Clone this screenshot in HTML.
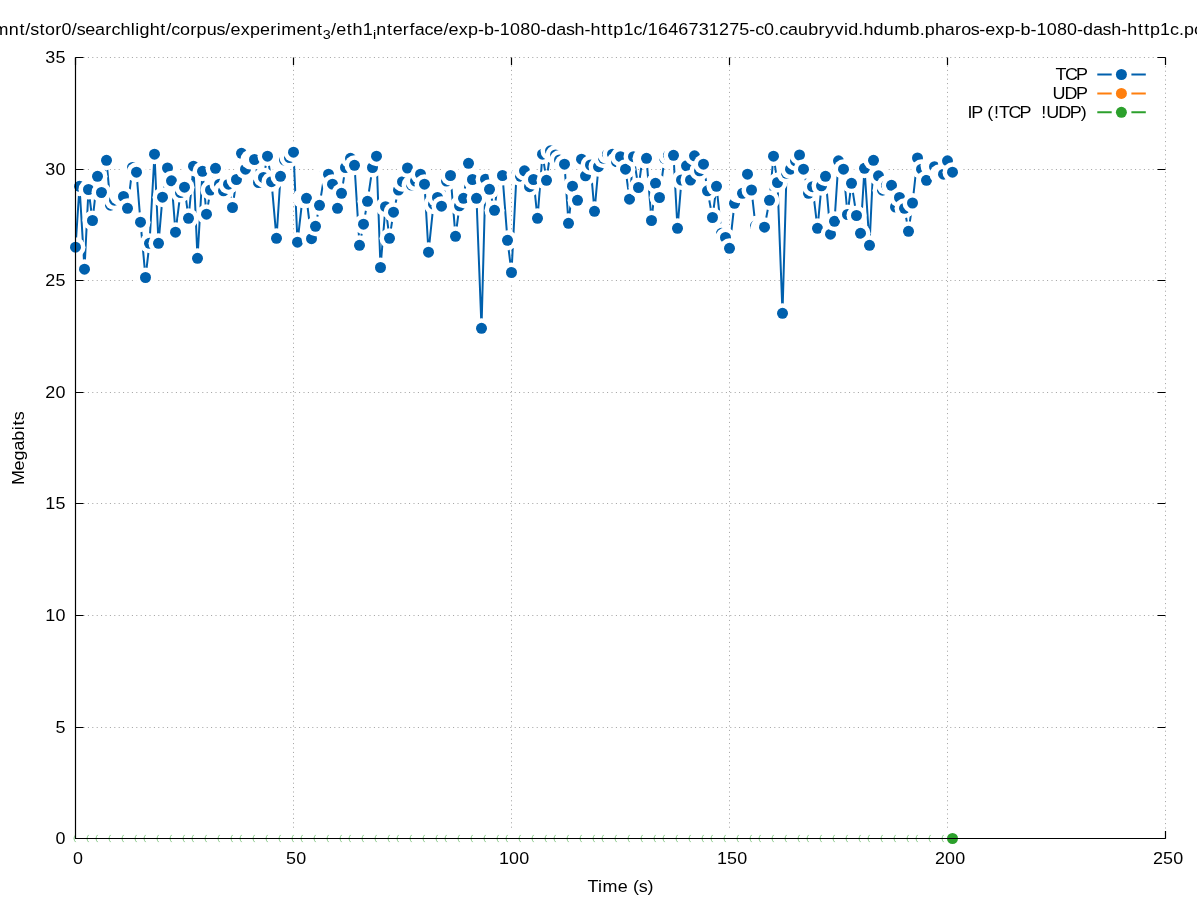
<!DOCTYPE html><html><head><meta charset="utf-8"><style>html,body{margin:0;padding:0;background:#fff;overflow:hidden}svg{display:block;will-change:transform}text{font-family:"Liberation Sans", sans-serif;fill:#000}</style></head><body>
<svg width="1197" height="900" viewBox="0 0 1197 900">
<rect width="1197" height="900" fill="#fff"/>
<path d="M83.5 727.50H1157.5M83.5 615.50H1157.5M83.5 503.50H1157.5M83.5 392.50H1157.5M83.5 280.50H1157.5M83.5 169.50H1157.5M83.5 57.50H1165.5M293.50 65.5V830.5M511.50 65.5V830.5M729.50 65.5V830.5M947.50 65.5V830.5M1165.50 57.5V830.5" stroke="#a0a0a0" stroke-width="1" stroke-dasharray="1 3.4" fill="none"/>
<path d="M75.5 838.50h8M1165.5 838.50h-8M75.5 727.50h8M1165.5 727.50h-8M75.5 615.50h8M1165.5 615.50h-8M75.5 503.50h8M1165.5 503.50h-8M75.5 392.50h8M1165.5 392.50h-8M75.5 280.50h8M1165.5 280.50h-8M75.5 169.50h8M1165.5 169.50h-8M75.5 57.50h8M1165.5 57.50h-8M75.50 838.5v-7.5M75.50 57.5v7.5M293.50 838.5v-7.5M293.50 57.5v7.5M511.50 838.5v-7.5M511.50 57.5v7.5M729.50 838.5v-7.5M729.50 57.5v7.5M947.50 838.5v-7.5M947.50 57.5v7.5M1165.50 838.5v-7.5M1165.50 57.5v7.5" stroke="#000" stroke-width="1.2" fill="none"/>
<polyline points="75.5,247.2 79.5,186.3 84.5,269.2 88.5,189.5 92.5,220.5 97.5,176.3 101.5,192.5 106.5,160.3 110.5,205.2 114.5,200.2 119.5,195.5 123.5,196.5 127.5,208.3 132.5,167.5 136.5,172.2 140.5,222.2 145.5,277.5 149.5,243.3 154.5,154.2 158.5,243.3 162.5,197.2 167.5,168.0 171.5,180.8 175.5,232.2 180.5,192.5 184.5,187.2 188.5,218.3 193.5,166.2 197.5,258.3 202.5,171.3 206.5,214.2 210.5,190.0 215.5,168.3 219.5,184.2 223.5,190.8 228.5,184.2 232.5,207.5 236.5,179.5 241.5,153.3 245.5,169.2 250.5,159.5 254.5,159.5 258.5,182.5 263.5,177.5 267.5,156.2 271.5,181.7 276.5,238.3 280.5,176.3 284.5,160.0 289.5,157.5 293.5,152.2 297.5,242.2 302.5,198.3 306.5,198.3 311.5,238.7 315.5,226.3 319.5,205.3 324.5,174.2 328.5,174.2 332.5,184.2 337.5,208.3 341.5,193.3 345.5,167.5 350.5,158.3 354.5,165.3 359.5,245.3 363.5,224.2 367.5,201.3 372.5,167.5 376.5,156.2 380.5,267.5 385.5,206.7 389.5,238.3 393.5,212.2 398.5,190.0 402.5,181.7 407.5,168.0 411.5,185.0 415.5,181.1 420.5,174.2 424.5,184.2 428.5,252.2 433.5,204.2 437.5,197.5 441.5,206.2 446.5,181.0 450.5,175.5 455.5,236.3 459.5,205.8 463.5,198.3 468.5,163.3 472.5,179.5 476.5,198.3 481.5,328.3 485.5,179.2 489.5,189.3 494.5,210.3 498.5,175.5 502.5,175.5 507.5,240.3 511.5,272.5 516.5,174.5 520.5,176.3 524.5,170.8 529.5,186.7 533.5,179.5 537.5,218.3 542.5,154.2 546.5,180.3 550.5,150.8 555.5,155.0 559.5,160.0 564.5,164.2 568.5,223.3 572.5,186.2 577.5,200.3 581.5,159.2 585.5,175.8 590.5,165.0 594.5,211.3 598.5,166.7 603.5,158.3 607.5,154.2 612.5,154.2 616.5,161.7 620.5,156.7 625.5,169.2 629.5,199.2 633.5,156.7 638.5,187.5 642.5,158.3 646.5,158.3 651.5,220.5 655.5,183.3 659.5,197.5 664.5,158.3 668.5,155.3 673.5,155.3 677.5,228.3 681.5,180.0 686.5,165.8 690.5,180.0 694.5,155.8 699.5,170.8 703.5,164.2 707.5,190.8 712.5,217.5 716.5,186.3 721.5,233.3 725.5,237.5 729.5,248.3 734.5,203.3 738.5,193.3 742.5,193.3 747.5,174.2 751.5,190.0 755.5,225.8 760.5,227.2 764.5,227.2 769.5,200.3 773.5,156.2 777.5,182.5 782.5,313.3 786.5,173.3 790.5,169.2 795.5,160.8 799.5,155.0 803.5,169.2 808.5,193.3 812.5,186.7 817.5,228.3 821.5,185.8 825.5,176.3 830.5,234.2 834.5,221.3 838.5,160.8 843.5,169.2 847.5,214.5 851.5,183.3 856.5,215.5 860.5,233.3 864.5,168.3 869.5,245.3 873.5,160.3 878.5,175.8 882.5,190.2 886.5,185.3 891.5,185.3 895.5,207.0 899.5,197.5 904.5,208.3 908.5,231.3 912.5,203.0 917.5,158.0 921.5,169.2 926.5,180.3 930.5,165.8 934.5,166.7 939.5,174.2 943.5,174.2 947.5,160.8 952.5,172.2" stroke="#0060ad" stroke-width="2" fill="none" stroke-linejoin="miter"/>
<g><circle cx="75.5" cy="247.2" r="10" fill="#fff"/><circle cx="75.5" cy="247.2" r="5.5" fill="#0060ad"/><circle cx="79.5" cy="186.3" r="10" fill="#fff"/><circle cx="79.5" cy="186.3" r="5.5" fill="#0060ad"/><circle cx="84.5" cy="269.2" r="10" fill="#fff"/><circle cx="84.5" cy="269.2" r="5.5" fill="#0060ad"/><circle cx="88.5" cy="189.5" r="10" fill="#fff"/><circle cx="88.5" cy="189.5" r="5.5" fill="#0060ad"/><circle cx="92.5" cy="220.5" r="10" fill="#fff"/><circle cx="92.5" cy="220.5" r="5.5" fill="#0060ad"/><circle cx="97.5" cy="176.3" r="10" fill="#fff"/><circle cx="97.5" cy="176.3" r="5.5" fill="#0060ad"/><circle cx="101.5" cy="192.5" r="10" fill="#fff"/><circle cx="101.5" cy="192.5" r="5.5" fill="#0060ad"/><circle cx="106.5" cy="160.3" r="10" fill="#fff"/><circle cx="106.5" cy="160.3" r="5.5" fill="#0060ad"/><circle cx="110.5" cy="205.2" r="10" fill="#fff"/><circle cx="110.5" cy="205.2" r="5.5" fill="#0060ad"/><circle cx="114.5" cy="200.2" r="10" fill="#fff"/><circle cx="114.5" cy="200.2" r="5.5" fill="#0060ad"/><circle cx="119.5" cy="195.5" r="10" fill="#fff"/><circle cx="119.5" cy="195.5" r="5.5" fill="#0060ad"/><circle cx="123.5" cy="196.5" r="10" fill="#fff"/><circle cx="123.5" cy="196.5" r="5.5" fill="#0060ad"/><circle cx="127.5" cy="208.3" r="10" fill="#fff"/><circle cx="127.5" cy="208.3" r="5.5" fill="#0060ad"/><circle cx="132.5" cy="167.5" r="10" fill="#fff"/><circle cx="132.5" cy="167.5" r="5.5" fill="#0060ad"/><circle cx="136.5" cy="172.2" r="10" fill="#fff"/><circle cx="136.5" cy="172.2" r="5.5" fill="#0060ad"/><circle cx="140.5" cy="222.2" r="10" fill="#fff"/><circle cx="140.5" cy="222.2" r="5.5" fill="#0060ad"/><circle cx="145.5" cy="277.5" r="10" fill="#fff"/><circle cx="145.5" cy="277.5" r="5.5" fill="#0060ad"/><circle cx="149.5" cy="243.3" r="10" fill="#fff"/><circle cx="149.5" cy="243.3" r="5.5" fill="#0060ad"/><circle cx="154.5" cy="154.2" r="10" fill="#fff"/><circle cx="154.5" cy="154.2" r="5.5" fill="#0060ad"/><circle cx="158.5" cy="243.3" r="10" fill="#fff"/><circle cx="158.5" cy="243.3" r="5.5" fill="#0060ad"/><circle cx="162.5" cy="197.2" r="10" fill="#fff"/><circle cx="162.5" cy="197.2" r="5.5" fill="#0060ad"/><circle cx="167.5" cy="168.0" r="10" fill="#fff"/><circle cx="167.5" cy="168.0" r="5.5" fill="#0060ad"/><circle cx="171.5" cy="180.8" r="10" fill="#fff"/><circle cx="171.5" cy="180.8" r="5.5" fill="#0060ad"/><circle cx="175.5" cy="232.2" r="10" fill="#fff"/><circle cx="175.5" cy="232.2" r="5.5" fill="#0060ad"/><circle cx="180.5" cy="192.5" r="10" fill="#fff"/><circle cx="180.5" cy="192.5" r="5.5" fill="#0060ad"/><circle cx="184.5" cy="187.2" r="10" fill="#fff"/><circle cx="184.5" cy="187.2" r="5.5" fill="#0060ad"/><circle cx="188.5" cy="218.3" r="10" fill="#fff"/><circle cx="188.5" cy="218.3" r="5.5" fill="#0060ad"/><circle cx="193.5" cy="166.2" r="10" fill="#fff"/><circle cx="193.5" cy="166.2" r="5.5" fill="#0060ad"/><circle cx="197.5" cy="258.3" r="10" fill="#fff"/><circle cx="197.5" cy="258.3" r="5.5" fill="#0060ad"/><circle cx="202.5" cy="171.3" r="10" fill="#fff"/><circle cx="202.5" cy="171.3" r="5.5" fill="#0060ad"/><circle cx="206.5" cy="214.2" r="10" fill="#fff"/><circle cx="206.5" cy="214.2" r="5.5" fill="#0060ad"/><circle cx="210.5" cy="190.0" r="10" fill="#fff"/><circle cx="210.5" cy="190.0" r="5.5" fill="#0060ad"/><circle cx="215.5" cy="168.3" r="10" fill="#fff"/><circle cx="215.5" cy="168.3" r="5.5" fill="#0060ad"/><circle cx="219.5" cy="184.2" r="10" fill="#fff"/><circle cx="219.5" cy="184.2" r="5.5" fill="#0060ad"/><circle cx="223.5" cy="190.8" r="10" fill="#fff"/><circle cx="223.5" cy="190.8" r="5.5" fill="#0060ad"/><circle cx="228.5" cy="184.2" r="10" fill="#fff"/><circle cx="228.5" cy="184.2" r="5.5" fill="#0060ad"/><circle cx="232.5" cy="207.5" r="10" fill="#fff"/><circle cx="232.5" cy="207.5" r="5.5" fill="#0060ad"/><circle cx="236.5" cy="179.5" r="10" fill="#fff"/><circle cx="236.5" cy="179.5" r="5.5" fill="#0060ad"/><circle cx="241.5" cy="153.3" r="10" fill="#fff"/><circle cx="241.5" cy="153.3" r="5.5" fill="#0060ad"/><circle cx="245.5" cy="169.2" r="10" fill="#fff"/><circle cx="245.5" cy="169.2" r="5.5" fill="#0060ad"/><circle cx="250.5" cy="159.5" r="10" fill="#fff"/><circle cx="250.5" cy="159.5" r="5.5" fill="#0060ad"/><circle cx="254.5" cy="159.5" r="10" fill="#fff"/><circle cx="254.5" cy="159.5" r="5.5" fill="#0060ad"/><circle cx="258.5" cy="182.5" r="10" fill="#fff"/><circle cx="258.5" cy="182.5" r="5.5" fill="#0060ad"/><circle cx="263.5" cy="177.5" r="10" fill="#fff"/><circle cx="263.5" cy="177.5" r="5.5" fill="#0060ad"/><circle cx="267.5" cy="156.2" r="10" fill="#fff"/><circle cx="267.5" cy="156.2" r="5.5" fill="#0060ad"/><circle cx="271.5" cy="181.7" r="10" fill="#fff"/><circle cx="271.5" cy="181.7" r="5.5" fill="#0060ad"/><circle cx="276.5" cy="238.3" r="10" fill="#fff"/><circle cx="276.5" cy="238.3" r="5.5" fill="#0060ad"/><circle cx="280.5" cy="176.3" r="10" fill="#fff"/><circle cx="280.5" cy="176.3" r="5.5" fill="#0060ad"/><circle cx="284.5" cy="160.0" r="10" fill="#fff"/><circle cx="284.5" cy="160.0" r="5.5" fill="#0060ad"/><circle cx="289.5" cy="157.5" r="10" fill="#fff"/><circle cx="289.5" cy="157.5" r="5.5" fill="#0060ad"/><circle cx="293.5" cy="152.2" r="10" fill="#fff"/><circle cx="293.5" cy="152.2" r="5.5" fill="#0060ad"/><circle cx="297.5" cy="242.2" r="10" fill="#fff"/><circle cx="297.5" cy="242.2" r="5.5" fill="#0060ad"/><circle cx="302.5" cy="198.3" r="10" fill="#fff"/><circle cx="302.5" cy="198.3" r="5.5" fill="#0060ad"/><circle cx="306.5" cy="198.3" r="10" fill="#fff"/><circle cx="306.5" cy="198.3" r="5.5" fill="#0060ad"/><circle cx="311.5" cy="238.7" r="10" fill="#fff"/><circle cx="311.5" cy="238.7" r="5.5" fill="#0060ad"/><circle cx="315.5" cy="226.3" r="10" fill="#fff"/><circle cx="315.5" cy="226.3" r="5.5" fill="#0060ad"/><circle cx="319.5" cy="205.3" r="10" fill="#fff"/><circle cx="319.5" cy="205.3" r="5.5" fill="#0060ad"/><circle cx="324.5" cy="174.2" r="10" fill="#fff"/><circle cx="324.5" cy="174.2" r="5.5" fill="#0060ad"/><circle cx="328.5" cy="174.2" r="10" fill="#fff"/><circle cx="328.5" cy="174.2" r="5.5" fill="#0060ad"/><circle cx="332.5" cy="184.2" r="10" fill="#fff"/><circle cx="332.5" cy="184.2" r="5.5" fill="#0060ad"/><circle cx="337.5" cy="208.3" r="10" fill="#fff"/><circle cx="337.5" cy="208.3" r="5.5" fill="#0060ad"/><circle cx="341.5" cy="193.3" r="10" fill="#fff"/><circle cx="341.5" cy="193.3" r="5.5" fill="#0060ad"/><circle cx="345.5" cy="167.5" r="10" fill="#fff"/><circle cx="345.5" cy="167.5" r="5.5" fill="#0060ad"/><circle cx="350.5" cy="158.3" r="10" fill="#fff"/><circle cx="350.5" cy="158.3" r="5.5" fill="#0060ad"/><circle cx="354.5" cy="165.3" r="10" fill="#fff"/><circle cx="354.5" cy="165.3" r="5.5" fill="#0060ad"/><circle cx="359.5" cy="245.3" r="10" fill="#fff"/><circle cx="359.5" cy="245.3" r="5.5" fill="#0060ad"/><circle cx="363.5" cy="224.2" r="10" fill="#fff"/><circle cx="363.5" cy="224.2" r="5.5" fill="#0060ad"/><circle cx="367.5" cy="201.3" r="10" fill="#fff"/><circle cx="367.5" cy="201.3" r="5.5" fill="#0060ad"/><circle cx="372.5" cy="167.5" r="10" fill="#fff"/><circle cx="372.5" cy="167.5" r="5.5" fill="#0060ad"/><circle cx="376.5" cy="156.2" r="10" fill="#fff"/><circle cx="376.5" cy="156.2" r="5.5" fill="#0060ad"/><circle cx="380.5" cy="267.5" r="10" fill="#fff"/><circle cx="380.5" cy="267.5" r="5.5" fill="#0060ad"/><circle cx="385.5" cy="206.7" r="10" fill="#fff"/><circle cx="385.5" cy="206.7" r="5.5" fill="#0060ad"/><circle cx="389.5" cy="238.3" r="10" fill="#fff"/><circle cx="389.5" cy="238.3" r="5.5" fill="#0060ad"/><circle cx="393.5" cy="212.2" r="10" fill="#fff"/><circle cx="393.5" cy="212.2" r="5.5" fill="#0060ad"/><circle cx="398.5" cy="190.0" r="10" fill="#fff"/><circle cx="398.5" cy="190.0" r="5.5" fill="#0060ad"/><circle cx="402.5" cy="181.7" r="10" fill="#fff"/><circle cx="402.5" cy="181.7" r="5.5" fill="#0060ad"/><circle cx="407.5" cy="168.0" r="10" fill="#fff"/><circle cx="407.5" cy="168.0" r="5.5" fill="#0060ad"/><circle cx="411.5" cy="185.0" r="10" fill="#fff"/><circle cx="411.5" cy="185.0" r="5.5" fill="#0060ad"/><circle cx="415.5" cy="181.1" r="10" fill="#fff"/><circle cx="415.5" cy="181.1" r="5.5" fill="#0060ad"/><circle cx="420.5" cy="174.2" r="10" fill="#fff"/><circle cx="420.5" cy="174.2" r="5.5" fill="#0060ad"/><circle cx="424.5" cy="184.2" r="10" fill="#fff"/><circle cx="424.5" cy="184.2" r="5.5" fill="#0060ad"/><circle cx="428.5" cy="252.2" r="10" fill="#fff"/><circle cx="428.5" cy="252.2" r="5.5" fill="#0060ad"/><circle cx="433.5" cy="204.2" r="10" fill="#fff"/><circle cx="433.5" cy="204.2" r="5.5" fill="#0060ad"/><circle cx="437.5" cy="197.5" r="10" fill="#fff"/><circle cx="437.5" cy="197.5" r="5.5" fill="#0060ad"/><circle cx="441.5" cy="206.2" r="10" fill="#fff"/><circle cx="441.5" cy="206.2" r="5.5" fill="#0060ad"/><circle cx="446.5" cy="181.0" r="10" fill="#fff"/><circle cx="446.5" cy="181.0" r="5.5" fill="#0060ad"/><circle cx="450.5" cy="175.5" r="10" fill="#fff"/><circle cx="450.5" cy="175.5" r="5.5" fill="#0060ad"/><circle cx="455.5" cy="236.3" r="10" fill="#fff"/><circle cx="455.5" cy="236.3" r="5.5" fill="#0060ad"/><circle cx="459.5" cy="205.8" r="10" fill="#fff"/><circle cx="459.5" cy="205.8" r="5.5" fill="#0060ad"/><circle cx="463.5" cy="198.3" r="10" fill="#fff"/><circle cx="463.5" cy="198.3" r="5.5" fill="#0060ad"/><circle cx="468.5" cy="163.3" r="10" fill="#fff"/><circle cx="468.5" cy="163.3" r="5.5" fill="#0060ad"/><circle cx="472.5" cy="179.5" r="10" fill="#fff"/><circle cx="472.5" cy="179.5" r="5.5" fill="#0060ad"/><circle cx="476.5" cy="198.3" r="10" fill="#fff"/><circle cx="476.5" cy="198.3" r="5.5" fill="#0060ad"/><circle cx="481.5" cy="328.3" r="10" fill="#fff"/><circle cx="481.5" cy="328.3" r="5.5" fill="#0060ad"/><circle cx="485.5" cy="179.2" r="10" fill="#fff"/><circle cx="485.5" cy="179.2" r="5.5" fill="#0060ad"/><circle cx="489.5" cy="189.3" r="10" fill="#fff"/><circle cx="489.5" cy="189.3" r="5.5" fill="#0060ad"/><circle cx="494.5" cy="210.3" r="10" fill="#fff"/><circle cx="494.5" cy="210.3" r="5.5" fill="#0060ad"/><circle cx="498.5" cy="175.5" r="10" fill="#fff"/><circle cx="498.5" cy="175.5" r="5.5" fill="#0060ad"/><circle cx="502.5" cy="175.5" r="10" fill="#fff"/><circle cx="502.5" cy="175.5" r="5.5" fill="#0060ad"/><circle cx="507.5" cy="240.3" r="10" fill="#fff"/><circle cx="507.5" cy="240.3" r="5.5" fill="#0060ad"/><circle cx="511.5" cy="272.5" r="10" fill="#fff"/><circle cx="511.5" cy="272.5" r="5.5" fill="#0060ad"/><circle cx="516.5" cy="174.5" r="10" fill="#fff"/><circle cx="516.5" cy="174.5" r="5.5" fill="#0060ad"/><circle cx="520.5" cy="176.3" r="10" fill="#fff"/><circle cx="520.5" cy="176.3" r="5.5" fill="#0060ad"/><circle cx="524.5" cy="170.8" r="10" fill="#fff"/><circle cx="524.5" cy="170.8" r="5.5" fill="#0060ad"/><circle cx="529.5" cy="186.7" r="10" fill="#fff"/><circle cx="529.5" cy="186.7" r="5.5" fill="#0060ad"/><circle cx="533.5" cy="179.5" r="10" fill="#fff"/><circle cx="533.5" cy="179.5" r="5.5" fill="#0060ad"/><circle cx="537.5" cy="218.3" r="10" fill="#fff"/><circle cx="537.5" cy="218.3" r="5.5" fill="#0060ad"/><circle cx="542.5" cy="154.2" r="10" fill="#fff"/><circle cx="542.5" cy="154.2" r="5.5" fill="#0060ad"/><circle cx="546.5" cy="180.3" r="10" fill="#fff"/><circle cx="546.5" cy="180.3" r="5.5" fill="#0060ad"/><circle cx="550.5" cy="150.8" r="10" fill="#fff"/><circle cx="550.5" cy="150.8" r="5.5" fill="#0060ad"/><circle cx="555.5" cy="155.0" r="10" fill="#fff"/><circle cx="555.5" cy="155.0" r="5.5" fill="#0060ad"/><circle cx="559.5" cy="160.0" r="10" fill="#fff"/><circle cx="559.5" cy="160.0" r="5.5" fill="#0060ad"/><circle cx="564.5" cy="164.2" r="10" fill="#fff"/><circle cx="564.5" cy="164.2" r="5.5" fill="#0060ad"/><circle cx="568.5" cy="223.3" r="10" fill="#fff"/><circle cx="568.5" cy="223.3" r="5.5" fill="#0060ad"/><circle cx="572.5" cy="186.2" r="10" fill="#fff"/><circle cx="572.5" cy="186.2" r="5.5" fill="#0060ad"/><circle cx="577.5" cy="200.3" r="10" fill="#fff"/><circle cx="577.5" cy="200.3" r="5.5" fill="#0060ad"/><circle cx="581.5" cy="159.2" r="10" fill="#fff"/><circle cx="581.5" cy="159.2" r="5.5" fill="#0060ad"/><circle cx="585.5" cy="175.8" r="10" fill="#fff"/><circle cx="585.5" cy="175.8" r="5.5" fill="#0060ad"/><circle cx="590.5" cy="165.0" r="10" fill="#fff"/><circle cx="590.5" cy="165.0" r="5.5" fill="#0060ad"/><circle cx="594.5" cy="211.3" r="10" fill="#fff"/><circle cx="594.5" cy="211.3" r="5.5" fill="#0060ad"/><circle cx="598.5" cy="166.7" r="10" fill="#fff"/><circle cx="598.5" cy="166.7" r="5.5" fill="#0060ad"/><circle cx="603.5" cy="158.3" r="10" fill="#fff"/><circle cx="603.5" cy="158.3" r="5.5" fill="#0060ad"/><circle cx="607.5" cy="154.2" r="10" fill="#fff"/><circle cx="607.5" cy="154.2" r="5.5" fill="#0060ad"/><circle cx="612.5" cy="154.2" r="10" fill="#fff"/><circle cx="612.5" cy="154.2" r="5.5" fill="#0060ad"/><circle cx="616.5" cy="161.7" r="10" fill="#fff"/><circle cx="616.5" cy="161.7" r="5.5" fill="#0060ad"/><circle cx="620.5" cy="156.7" r="10" fill="#fff"/><circle cx="620.5" cy="156.7" r="5.5" fill="#0060ad"/><circle cx="625.5" cy="169.2" r="10" fill="#fff"/><circle cx="625.5" cy="169.2" r="5.5" fill="#0060ad"/><circle cx="629.5" cy="199.2" r="10" fill="#fff"/><circle cx="629.5" cy="199.2" r="5.5" fill="#0060ad"/><circle cx="633.5" cy="156.7" r="10" fill="#fff"/><circle cx="633.5" cy="156.7" r="5.5" fill="#0060ad"/><circle cx="638.5" cy="187.5" r="10" fill="#fff"/><circle cx="638.5" cy="187.5" r="5.5" fill="#0060ad"/><circle cx="642.5" cy="158.3" r="10" fill="#fff"/><circle cx="642.5" cy="158.3" r="5.5" fill="#0060ad"/><circle cx="646.5" cy="158.3" r="10" fill="#fff"/><circle cx="646.5" cy="158.3" r="5.5" fill="#0060ad"/><circle cx="651.5" cy="220.5" r="10" fill="#fff"/><circle cx="651.5" cy="220.5" r="5.5" fill="#0060ad"/><circle cx="655.5" cy="183.3" r="10" fill="#fff"/><circle cx="655.5" cy="183.3" r="5.5" fill="#0060ad"/><circle cx="659.5" cy="197.5" r="10" fill="#fff"/><circle cx="659.5" cy="197.5" r="5.5" fill="#0060ad"/><circle cx="664.5" cy="158.3" r="10" fill="#fff"/><circle cx="664.5" cy="158.3" r="5.5" fill="#0060ad"/><circle cx="668.5" cy="155.3" r="10" fill="#fff"/><circle cx="668.5" cy="155.3" r="5.5" fill="#0060ad"/><circle cx="673.5" cy="155.3" r="10" fill="#fff"/><circle cx="673.5" cy="155.3" r="5.5" fill="#0060ad"/><circle cx="677.5" cy="228.3" r="10" fill="#fff"/><circle cx="677.5" cy="228.3" r="5.5" fill="#0060ad"/><circle cx="681.5" cy="180.0" r="10" fill="#fff"/><circle cx="681.5" cy="180.0" r="5.5" fill="#0060ad"/><circle cx="686.5" cy="165.8" r="10" fill="#fff"/><circle cx="686.5" cy="165.8" r="5.5" fill="#0060ad"/><circle cx="690.5" cy="180.0" r="10" fill="#fff"/><circle cx="690.5" cy="180.0" r="5.5" fill="#0060ad"/><circle cx="694.5" cy="155.8" r="10" fill="#fff"/><circle cx="694.5" cy="155.8" r="5.5" fill="#0060ad"/><circle cx="699.5" cy="170.8" r="10" fill="#fff"/><circle cx="699.5" cy="170.8" r="5.5" fill="#0060ad"/><circle cx="703.5" cy="164.2" r="10" fill="#fff"/><circle cx="703.5" cy="164.2" r="5.5" fill="#0060ad"/><circle cx="707.5" cy="190.8" r="10" fill="#fff"/><circle cx="707.5" cy="190.8" r="5.5" fill="#0060ad"/><circle cx="712.5" cy="217.5" r="10" fill="#fff"/><circle cx="712.5" cy="217.5" r="5.5" fill="#0060ad"/><circle cx="716.5" cy="186.3" r="10" fill="#fff"/><circle cx="716.5" cy="186.3" r="5.5" fill="#0060ad"/><circle cx="721.5" cy="233.3" r="10" fill="#fff"/><circle cx="721.5" cy="233.3" r="5.5" fill="#0060ad"/><circle cx="725.5" cy="237.5" r="10" fill="#fff"/><circle cx="725.5" cy="237.5" r="5.5" fill="#0060ad"/><circle cx="729.5" cy="248.3" r="10" fill="#fff"/><circle cx="729.5" cy="248.3" r="5.5" fill="#0060ad"/><circle cx="734.5" cy="203.3" r="10" fill="#fff"/><circle cx="734.5" cy="203.3" r="5.5" fill="#0060ad"/><circle cx="738.5" cy="193.3" r="10" fill="#fff"/><circle cx="738.5" cy="193.3" r="5.5" fill="#0060ad"/><circle cx="742.5" cy="193.3" r="10" fill="#fff"/><circle cx="742.5" cy="193.3" r="5.5" fill="#0060ad"/><circle cx="747.5" cy="174.2" r="10" fill="#fff"/><circle cx="747.5" cy="174.2" r="5.5" fill="#0060ad"/><circle cx="751.5" cy="190.0" r="10" fill="#fff"/><circle cx="751.5" cy="190.0" r="5.5" fill="#0060ad"/><circle cx="755.5" cy="225.8" r="10" fill="#fff"/><circle cx="755.5" cy="225.8" r="5.5" fill="#0060ad"/><circle cx="760.5" cy="227.2" r="10" fill="#fff"/><circle cx="760.5" cy="227.2" r="5.5" fill="#0060ad"/><circle cx="764.5" cy="227.2" r="10" fill="#fff"/><circle cx="764.5" cy="227.2" r="5.5" fill="#0060ad"/><circle cx="769.5" cy="200.3" r="10" fill="#fff"/><circle cx="769.5" cy="200.3" r="5.5" fill="#0060ad"/><circle cx="773.5" cy="156.2" r="10" fill="#fff"/><circle cx="773.5" cy="156.2" r="5.5" fill="#0060ad"/><circle cx="777.5" cy="182.5" r="10" fill="#fff"/><circle cx="777.5" cy="182.5" r="5.5" fill="#0060ad"/><circle cx="782.5" cy="313.3" r="10" fill="#fff"/><circle cx="782.5" cy="313.3" r="5.5" fill="#0060ad"/><circle cx="786.5" cy="173.3" r="10" fill="#fff"/><circle cx="786.5" cy="173.3" r="5.5" fill="#0060ad"/><circle cx="790.5" cy="169.2" r="10" fill="#fff"/><circle cx="790.5" cy="169.2" r="5.5" fill="#0060ad"/><circle cx="795.5" cy="160.8" r="10" fill="#fff"/><circle cx="795.5" cy="160.8" r="5.5" fill="#0060ad"/><circle cx="799.5" cy="155.0" r="10" fill="#fff"/><circle cx="799.5" cy="155.0" r="5.5" fill="#0060ad"/><circle cx="803.5" cy="169.2" r="10" fill="#fff"/><circle cx="803.5" cy="169.2" r="5.5" fill="#0060ad"/><circle cx="808.5" cy="193.3" r="10" fill="#fff"/><circle cx="808.5" cy="193.3" r="5.5" fill="#0060ad"/><circle cx="812.5" cy="186.7" r="10" fill="#fff"/><circle cx="812.5" cy="186.7" r="5.5" fill="#0060ad"/><circle cx="817.5" cy="228.3" r="10" fill="#fff"/><circle cx="817.5" cy="228.3" r="5.5" fill="#0060ad"/><circle cx="821.5" cy="185.8" r="10" fill="#fff"/><circle cx="821.5" cy="185.8" r="5.5" fill="#0060ad"/><circle cx="825.5" cy="176.3" r="10" fill="#fff"/><circle cx="825.5" cy="176.3" r="5.5" fill="#0060ad"/><circle cx="830.5" cy="234.2" r="10" fill="#fff"/><circle cx="830.5" cy="234.2" r="5.5" fill="#0060ad"/><circle cx="834.5" cy="221.3" r="10" fill="#fff"/><circle cx="834.5" cy="221.3" r="5.5" fill="#0060ad"/><circle cx="838.5" cy="160.8" r="10" fill="#fff"/><circle cx="838.5" cy="160.8" r="5.5" fill="#0060ad"/><circle cx="843.5" cy="169.2" r="10" fill="#fff"/><circle cx="843.5" cy="169.2" r="5.5" fill="#0060ad"/><circle cx="847.5" cy="214.5" r="10" fill="#fff"/><circle cx="847.5" cy="214.5" r="5.5" fill="#0060ad"/><circle cx="851.5" cy="183.3" r="10" fill="#fff"/><circle cx="851.5" cy="183.3" r="5.5" fill="#0060ad"/><circle cx="856.5" cy="215.5" r="10" fill="#fff"/><circle cx="856.5" cy="215.5" r="5.5" fill="#0060ad"/><circle cx="860.5" cy="233.3" r="10" fill="#fff"/><circle cx="860.5" cy="233.3" r="5.5" fill="#0060ad"/><circle cx="864.5" cy="168.3" r="10" fill="#fff"/><circle cx="864.5" cy="168.3" r="5.5" fill="#0060ad"/><circle cx="869.5" cy="245.3" r="10" fill="#fff"/><circle cx="869.5" cy="245.3" r="5.5" fill="#0060ad"/><circle cx="873.5" cy="160.3" r="10" fill="#fff"/><circle cx="873.5" cy="160.3" r="5.5" fill="#0060ad"/><circle cx="878.5" cy="175.8" r="10" fill="#fff"/><circle cx="878.5" cy="175.8" r="5.5" fill="#0060ad"/><circle cx="882.5" cy="190.2" r="10" fill="#fff"/><circle cx="882.5" cy="190.2" r="5.5" fill="#0060ad"/><circle cx="886.5" cy="185.3" r="10" fill="#fff"/><circle cx="886.5" cy="185.3" r="5.5" fill="#0060ad"/><circle cx="891.5" cy="185.3" r="10" fill="#fff"/><circle cx="891.5" cy="185.3" r="5.5" fill="#0060ad"/><circle cx="895.5" cy="207.0" r="10" fill="#fff"/><circle cx="895.5" cy="207.0" r="5.5" fill="#0060ad"/><circle cx="899.5" cy="197.5" r="10" fill="#fff"/><circle cx="899.5" cy="197.5" r="5.5" fill="#0060ad"/><circle cx="904.5" cy="208.3" r="10" fill="#fff"/><circle cx="904.5" cy="208.3" r="5.5" fill="#0060ad"/><circle cx="908.5" cy="231.3" r="10" fill="#fff"/><circle cx="908.5" cy="231.3" r="5.5" fill="#0060ad"/><circle cx="912.5" cy="203.0" r="10" fill="#fff"/><circle cx="912.5" cy="203.0" r="5.5" fill="#0060ad"/><circle cx="917.5" cy="158.0" r="10" fill="#fff"/><circle cx="917.5" cy="158.0" r="5.5" fill="#0060ad"/><circle cx="921.5" cy="169.2" r="10" fill="#fff"/><circle cx="921.5" cy="169.2" r="5.5" fill="#0060ad"/><circle cx="926.5" cy="180.3" r="10" fill="#fff"/><circle cx="926.5" cy="180.3" r="5.5" fill="#0060ad"/><circle cx="930.5" cy="165.8" r="10" fill="#fff"/><circle cx="930.5" cy="165.8" r="5.5" fill="#0060ad"/><circle cx="934.5" cy="166.7" r="10" fill="#fff"/><circle cx="934.5" cy="166.7" r="5.5" fill="#0060ad"/><circle cx="939.5" cy="174.2" r="10" fill="#fff"/><circle cx="939.5" cy="174.2" r="5.5" fill="#0060ad"/><circle cx="943.5" cy="174.2" r="10" fill="#fff"/><circle cx="943.5" cy="174.2" r="5.5" fill="#0060ad"/><circle cx="947.5" cy="160.8" r="10" fill="#fff"/><circle cx="947.5" cy="160.8" r="5.5" fill="#0060ad"/><circle cx="952.5" cy="172.2" r="10" fill="#fff"/><circle cx="952.5" cy="172.2" r="5.5" fill="#0060ad"/></g>
<rect x="65.5" y="828.5" width="897" height="20" rx="10" fill="#fff"/>
<g stroke="#2ca02c" stroke-width="0.8" fill="none" opacity="0.7">
<path d="M75.60 834.90A5.5 5.5 0 0 0 75.60 842.10"/>
<path d="M88.60 834.90A5.5 5.5 0 0 0 88.60 842.10"/>
<path d="M97.60 834.90A5.5 5.5 0 0 0 97.60 842.10"/>
<path d="M110.60 834.90A5.5 5.5 0 0 0 110.60 842.10"/>
<path d="M123.60 834.90A5.5 5.5 0 0 0 123.60 842.10"/>
<path d="M136.60 834.90A5.5 5.5 0 0 0 136.60 842.10"/>
<path d="M145.60 834.90A5.5 5.5 0 0 0 145.60 842.10"/>
<path d="M158.60 834.90A5.5 5.5 0 0 0 158.60 842.10"/>
<path d="M171.60 834.90A5.5 5.5 0 0 0 171.60 842.10"/>
<path d="M184.60 834.90A5.5 5.5 0 0 0 184.60 842.10"/>
<path d="M193.60 834.90A5.5 5.5 0 0 0 193.60 842.10"/>
<path d="M206.60 834.90A5.5 5.5 0 0 0 206.60 842.10"/>
<path d="M219.60 834.90A5.5 5.5 0 0 0 219.60 842.10"/>
<path d="M232.60 834.90A5.5 5.5 0 0 0 232.60 842.10"/>
<path d="M241.60 834.90A5.5 5.5 0 0 0 241.60 842.10"/>
<path d="M254.60 834.90A5.5 5.5 0 0 0 254.60 842.10"/>
<path d="M267.60 834.90A5.5 5.5 0 0 0 267.60 842.10"/>
<path d="M280.60 834.90A5.5 5.5 0 0 0 280.60 842.10"/>
<path d="M293.60 834.90A5.5 5.5 0 0 0 293.60 842.10"/>
<path d="M302.60 834.90A5.5 5.5 0 0 0 302.60 842.10"/>
<path d="M315.60 834.90A5.5 5.5 0 0 0 315.60 842.10"/>
<path d="M328.60 834.90A5.5 5.5 0 0 0 328.60 842.10"/>
<path d="M341.60 834.90A5.5 5.5 0 0 0 341.60 842.10"/>
<path d="M350.60 834.90A5.5 5.5 0 0 0 350.60 842.10"/>
<path d="M363.60 834.90A5.5 5.5 0 0 0 363.60 842.10"/>
<path d="M376.60 834.90A5.5 5.5 0 0 0 376.60 842.10"/>
<path d="M389.60 834.90A5.5 5.5 0 0 0 389.60 842.10"/>
<path d="M398.60 834.90A5.5 5.5 0 0 0 398.60 842.10"/>
<path d="M411.60 834.90A5.5 5.5 0 0 0 411.60 842.10"/>
<path d="M424.60 834.90A5.5 5.5 0 0 0 424.60 842.10"/>
<path d="M437.60 834.90A5.5 5.5 0 0 0 437.60 842.10"/>
<path d="M446.60 834.90A5.5 5.5 0 0 0 446.60 842.10"/>
<path d="M459.60 834.90A5.5 5.5 0 0 0 459.60 842.10"/>
<path d="M472.60 834.90A5.5 5.5 0 0 0 472.60 842.10"/>
<path d="M485.60 834.90A5.5 5.5 0 0 0 485.60 842.10"/>
<path d="M498.60 834.90A5.5 5.5 0 0 0 498.60 842.10"/>
<path d="M507.60 834.90A5.5 5.5 0 0 0 507.60 842.10"/>
<path d="M520.60 834.90A5.5 5.5 0 0 0 520.60 842.10"/>
<path d="M533.60 834.90A5.5 5.5 0 0 0 533.60 842.10"/>
<path d="M546.60 834.90A5.5 5.5 0 0 0 546.60 842.10"/>
<path d="M555.60 834.90A5.5 5.5 0 0 0 555.60 842.10"/>
<path d="M568.60 834.90A5.5 5.5 0 0 0 568.60 842.10"/>
<path d="M581.60 834.90A5.5 5.5 0 0 0 581.60 842.10"/>
<path d="M594.60 834.90A5.5 5.5 0 0 0 594.60 842.10"/>
<path d="M603.60 834.90A5.5 5.5 0 0 0 603.60 842.10"/>
<path d="M616.60 834.90A5.5 5.5 0 0 0 616.60 842.10"/>
<path d="M629.60 834.90A5.5 5.5 0 0 0 629.60 842.10"/>
<path d="M642.60 834.90A5.5 5.5 0 0 0 642.60 842.10"/>
<path d="M655.60 834.90A5.5 5.5 0 0 0 655.60 842.10"/>
<path d="M664.60 834.90A5.5 5.5 0 0 0 664.60 842.10"/>
<path d="M677.60 834.90A5.5 5.5 0 0 0 677.60 842.10"/>
<path d="M690.60 834.90A5.5 5.5 0 0 0 690.60 842.10"/>
<path d="M703.60 834.90A5.5 5.5 0 0 0 703.60 842.10"/>
<path d="M712.60 834.90A5.5 5.5 0 0 0 712.60 842.10"/>
<path d="M725.60 834.90A5.5 5.5 0 0 0 725.60 842.10"/>
<path d="M738.60 834.90A5.5 5.5 0 0 0 738.60 842.10"/>
<path d="M751.60 834.90A5.5 5.5 0 0 0 751.60 842.10"/>
<path d="M760.60 834.90A5.5 5.5 0 0 0 760.60 842.10"/>
<path d="M773.60 834.90A5.5 5.5 0 0 0 773.60 842.10"/>
<path d="M786.60 834.90A5.5 5.5 0 0 0 786.60 842.10"/>
<path d="M799.60 834.90A5.5 5.5 0 0 0 799.60 842.10"/>
<path d="M808.60 834.90A5.5 5.5 0 0 0 808.60 842.10"/>
<path d="M821.60 834.90A5.5 5.5 0 0 0 821.60 842.10"/>
<path d="M834.60 834.90A5.5 5.5 0 0 0 834.60 842.10"/>
<path d="M847.60 834.90A5.5 5.5 0 0 0 847.60 842.10"/>
<path d="M860.60 834.90A5.5 5.5 0 0 0 860.60 842.10"/>
<path d="M869.60 834.90A5.5 5.5 0 0 0 869.60 842.10"/>
<path d="M882.60 834.90A5.5 5.5 0 0 0 882.60 842.10"/>
<path d="M895.60 834.90A5.5 5.5 0 0 0 895.60 842.10"/>
<path d="M908.60 834.90A5.5 5.5 0 0 0 908.60 842.10"/>
<path d="M917.60 834.90A5.5 5.5 0 0 0 917.60 842.10"/>
<path d="M930.60 834.90A5.5 5.5 0 0 0 930.60 842.10"/>
<path d="M943.60 834.90A5.5 5.5 0 0 0 943.60 842.10"/>
</g>
<circle cx="952.5" cy="838.5" r="5.5" fill="#2ca02c"/>
<path d="M75.5 57.5V838.5H1165.5" stroke="#000" stroke-width="1.2" fill="none"/>
<text transform="translate(0 844.20) scale(1.070 1)" x="56.46" y="0" font-size="16.80" text-anchor="middle">0</text>
<text transform="translate(0 733.20) scale(1.070 1)" x="56.46" y="0" font-size="16.80" text-anchor="middle">5</text>
<text transform="translate(0 621.20) scale(1.070 1)" x="46.94 56.46" y="0" font-size="16.80" text-anchor="middle">10</text>
<text transform="translate(0 509.20) scale(1.070 1)" x="46.94 56.46" y="0" font-size="16.80" text-anchor="middle">15</text>
<text transform="translate(0 398.20) scale(1.070 1)" x="46.94 56.46" y="0" font-size="16.80" text-anchor="middle">20</text>
<text transform="translate(0 286.20) scale(1.070 1)" x="46.94 56.46" y="0" font-size="16.80" text-anchor="middle">25</text>
<text transform="translate(0 175.20) scale(1.070 1)" x="46.94 56.46" y="0" font-size="16.80" text-anchor="middle">30</text>
<text transform="translate(0 63.20) scale(1.070 1)" x="46.94 56.46" y="0" font-size="16.80" text-anchor="middle">35</text>
<text transform="translate(0 864.10) scale(1.070 1)" x="72.99" y="0" font-size="16.80" text-anchor="middle">0</text>
<text transform="translate(0 864.10) scale(1.070 1)" x="271.97 281.49" y="0" font-size="16.80" text-anchor="middle">50</text>
<text transform="translate(0 864.10) scale(1.070 1)" x="470.95 480.47 489.98" y="0" font-size="16.80" text-anchor="middle">100</text>
<text transform="translate(0 864.10) scale(1.070 1)" x="674.69 684.21 693.72" y="0" font-size="16.80" text-anchor="middle">150</text>
<text transform="translate(0 864.10) scale(1.070 1)" x="878.43 887.94 897.46" y="0" font-size="16.80" text-anchor="middle">200</text>
<text transform="translate(0 864.10) scale(1.070 1)" x="1082.17 1091.68 1101.20" y="0" font-size="16.80" text-anchor="middle">250</text>
<text transform="translate(0 892.10) scale(1.070 1)" x="554.12 560.77 570.13 582.01 594.28 601.09 607.90" y="0" font-size="16.80" text-anchor="middle">Time(s)</text>
<text transform="translate(24.2 447.9) rotate(-90) scale(1.070 1)" x="-27.58 -16.53 -7.18 2.15 11.47 18.30 23.31 30.13" y="0" font-size="16.80" text-anchor="middle">Megabits</text>
<text transform="translate(0 34.90) scale(1.070 1)" x="-8.97 0.83 12.86 20.53" y="0" font-size="16.80" text-anchor="middle">/mnt</text>
<text transform="translate(0 34.90) scale(1.070 1)" x="25.98 32.39 39.22 46.72 54.37 62.20 69.48 75.89 84.39 93.57 101.23 108.41 117.26 124.07 128.23 135.05 144.54 152.21 157.66 164.29 172.97 180.62 188.44 197.92 206.56 212.97 220.09 229.12 238.29 247.63 255.31 260.46 269.82 281.70 291.04 298.71" y="0" font-size="16.80" text-anchor="middle">/stor0/searchlight/corpus/experiment</text>
<text transform="translate(0 38.70) scale(1.070 1)" x="305.45" y="0" font-size="13.44" text-anchor="middle">3</text>
<text transform="translate(0 34.90) scale(1.070 1)" x="311.77 318.89 326.42 334.09 343.59" y="0" font-size="16.80" text-anchor="middle">/eth1</text>
<text transform="translate(0 38.70) scale(1.070 1)" x="350.01" y="0" font-size="13.44" text-anchor="middle">i</text>
<text transform="translate(0 34.90) scale(1.070 1)" x="356.41 364.08 371.61 379.28 384.99 392.20 400.89 409.60 416.72 423.84 432.87 442.04 449.48 456.92 464.37 471.82 481.34 490.85 500.36 507.82 515.26 524.59 533.07 541.70 549.14 556.57 564.24 570.11 577.78 587.29 596.16 602.78 610.06 619.57 629.09 638.60 648.12 657.63 667.14 676.66 686.17 695.68 703.14 709.95 718.81 725.95 732.44 741.13 750.45 759.93 767.75 775.25 784.10 790.60 797.43 804.55 811.66 821.15 830.63 842.65 854.68 861.81 868.93 878.41 887.73 895.39 903.04 911.51 918.10 925.40 934.42 943.59 951.04 958.48 965.92 973.38 982.89 992.41 1001.92 1009.37 1016.82 1026.15 1034.62 1043.26 1050.69 1058.13 1065.80 1071.66 1079.34 1088.84 1097.71 1104.20 1111.32 1120.18 1128.87 1138.20" y="0" font-size="16.80" text-anchor="middle">nterface/exp-b-1080-dash-http1c/1646731275-c0.caubryvid.hdumb.pharos-exp-b-1080-dash-http1c.pcap</text>
<text transform="translate(0 79.80) scale(1.070 1)" x="991.68 1001.46 1011.19" y="0" font-size="16.80" text-anchor="middle">TCP</text>
<path d="M1097.3 74.5H1111.7M1131.4 74.5H1145.8" stroke="#0060ad" stroke-width="2"/>
<circle cx="1121.4" cy="74.5" r="5.5" fill="#0060ad"/>
<text transform="translate(0 98.70) scale(1.070 1)" x="989.70 1000.93 1011.19" y="0" font-size="16.80" text-anchor="middle">UDP</text>
<path d="M1097.3 93.4H1111.7M1131.4 93.4H1145.8" stroke="#ff7f0e" stroke-width="2"/>
<circle cx="1121.4" cy="93.4" r="5.5" fill="#ff7f0e"/>
<text transform="translate(0 117.60) scale(1.070 1)" x="906.49 913.21 925.39 931.30 938.86 948.65 958.38 975.39 983.86 995.09 1005.36 1012.78" y="0" font-size="16.80" text-anchor="middle">IP(!TCP!UDP)</text>
<path d="M1097.3 112.3H1111.7M1131.4 112.3H1145.8" stroke="#2ca02c" stroke-width="2"/>
<circle cx="1121.4" cy="112.3" r="5.5" fill="#2ca02c"/>
</svg></body></html>
